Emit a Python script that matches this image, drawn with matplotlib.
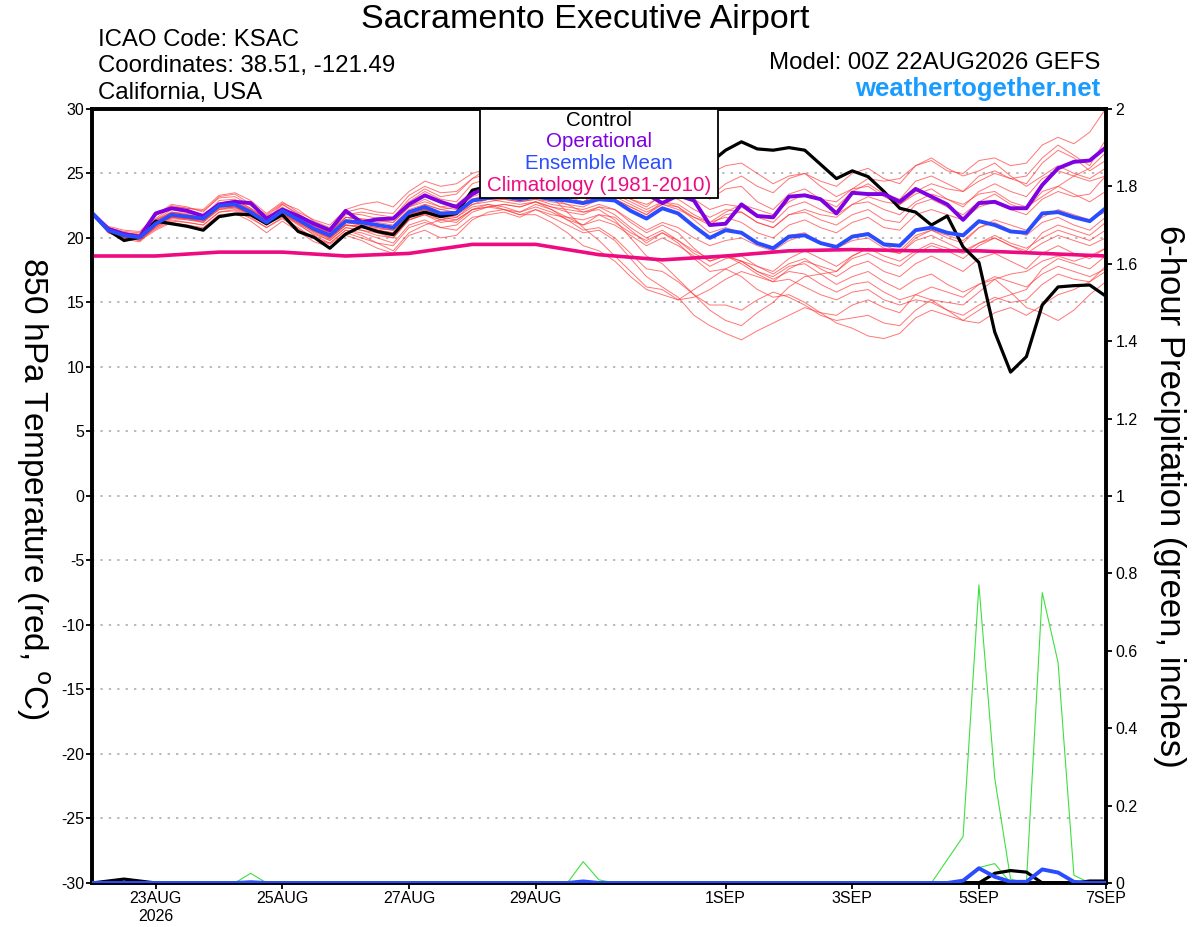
import numpy as np
import pandas as pd
import matplotlib
matplotlib.use('Agg')
import matplotlib.pyplot as plt
from matplotlib.patches import Rectangle

plt.rcParams['font.family'] = ['Liberation Sans', 'DejaVu Sans']
plt.rcParams['axes.unicode_minus'] = False

# 6-hourly forecast times, 00Z 22AUG2026 .. 00Z 07SEP2026
times = pd.date_range('2026-08-22 00:00', periods=65, freq='6h')
clim_times = pd.date_range('2026-08-22', periods=17, freq='1D')

# 850 hPa temperature (C)
control = [21.9, 20.6, 19.8, 20.05, 21.3, 21.1, 20.9, 20.6, 21.65, 21.85, 21.8, 21.1,
           21.8, 20.5, 20.05, 19.2, 20.3, 20.9, 20.5, 20.25, 21.65, 22.0, 21.65, 21.9,
           23.7, 24.0, 24.2, 24.0, 24.5, 24.3, 24.8, 24.5, 24.8, 25.0, 24.6, 25.0,
           24.8, 25.2, 25.5, 25.8, 26.8, 27.45, 26.9, 26.8, 27.0, 26.8, 25.7, 24.6,
           25.2, 24.75, 23.6, 22.3, 22.0, 21.0, 21.7, 19.3, 18.1, 12.7, 9.6, 10.8,
           14.8, 16.2, 16.3, 16.35, 15.5]
operational = [21.9, 20.7, 20.3, 20.1, 21.9, 22.3, 22.1, 21.7, 22.6, 22.8, 22.7, 21.5,
               22.2, 21.7, 21.1, 20.6, 22.1, 21.2, 21.45, 21.5, 22.6, 23.3, 22.8, 22.4,
               23.4, 24.0, 23.8, 24.0, 23.7, 23.9, 23.6, 23.4, 23.7, 23.5, 23.2, 23.4,
               22.7, 23.3, 22.9, 21.0, 21.1, 22.6, 21.7, 21.6, 23.2, 23.3, 23.0, 21.9,
               23.5, 23.4, 23.4, 22.8, 23.8, 23.2, 22.6, 21.4, 22.7, 22.8, 22.3, 22.3,
               24.1, 25.4, 25.9, 26.0, 27.0]
ens_mean = [21.9, 20.6, 20.2, 20.05, 21.1, 21.8, 21.65, 21.5, 22.5, 22.6, 22.0, 21.2,
            22.1, 21.4, 20.7, 20.2, 21.3, 21.2, 21.0, 20.8, 22.0, 22.4, 21.9, 21.95,
            22.9, 23.1, 23.2, 23.0, 23.2, 23.0, 22.9, 22.7, 23.0, 22.9, 22.1, 21.5,
            22.3, 21.9, 20.9, 20.0, 20.6, 20.4, 19.6, 19.2, 20.1, 20.2, 19.6, 19.3,
            20.1, 20.3, 19.5, 19.4, 20.6, 20.8, 20.4, 20.2, 21.3, 21.0, 20.5, 20.4,
            21.9, 22.0, 21.6, 21.3, 22.3]
climatology = [18.6, 18.6, 18.9, 18.9, 18.6, 18.8, 19.5, 19.5, 18.7, 18.3,
               18.6, 19.0, 19.1, 19.0, 19.0, 18.8, 18.6]

members = [
    [21.9, 20.8, 20.5, 20.4, 21.8, 22.6, 22.4, 22.0, 23.2, 23.4, 22.6, 21.8, 22.7, 22.2, 21.3, 20.8,
     22.0, 22.3, 22.0, 21.9, 23.3, 24.0, 23.5, 23.6, 24.6, 25.0, 25.3, 24.8, 25.2, 25.0, 24.6, 24.3,
     25.0, 24.8, 24.0, 23.6, 24.8, 24.5, 23.8, 23.2, 24.2, 24.8, 24.0, 23.5, 24.6, 25.0, 24.4, 24.0,
     25.0, 25.4, 24.6, 24.2, 25.6, 26.0, 25.2, 25.0, 26.0, 26.2, 25.6, 25.8, 27.2, 27.8, 27.3, 28.2, 30.0],
    [21.9, 20.5, 20.0, 19.9, 21.4, 22.2, 22.0, 21.6, 22.9, 23.0, 22.3, 21.4, 22.6, 21.8, 21.0, 20.4,
     21.9, 21.8, 21.5, 21.6, 22.8, 23.6, 23.0, 22.8, 24.2, 24.6, 24.0, 23.8, 24.4, 24.8, 24.2, 23.6,
     24.5, 25.2, 24.6, 23.8, 25.0, 25.4, 24.2, 23.0, 23.8, 24.0, 22.8, 22.2, 23.4, 23.8, 23.0, 22.4,
     23.6, 24.2, 23.4, 23.0, 24.4, 24.8, 24.2, 23.6, 24.8, 25.2, 24.6, 24.2, 25.8, 26.8, 26.2, 25.2, 26.0],
    [21.9, 20.7, 20.3, 20.0, 20.8, 21.4, 21.2, 21.0, 22.0, 22.2, 21.6, 20.8, 21.6, 20.8, 20.0, 19.6,
     20.6, 20.4, 20.0, 19.6, 21.0, 21.4, 20.8, 20.6, 21.6, 21.8, 22.0, 21.6, 22.2, 21.6, 21.0, 20.4,
     20.6, 19.8, 18.4, 17.0, 16.2, 15.4, 14.0, 13.2, 12.6, 12.1, 12.8, 13.4, 14.0, 14.6, 14.2, 14.0,
     14.8, 15.2, 14.6, 14.2, 15.6, 16.2, 15.8, 15.4, 16.4, 17.0, 16.6, 16.2, 17.2, 17.8, 17.4, 17.0, 17.6],
    [21.9, 20.6, 20.1, 19.8, 20.6, 21.2, 21.0, 20.8, 21.8, 21.9, 21.3, 20.4, 21.3, 20.5, 19.7, 19.3,
     20.2, 19.8, 19.2, 18.8, 20.2, 20.6, 20.0, 20.2, 21.4, 22.0, 22.2, 22.0, 22.6, 22.2, 21.6, 21.0,
     21.8, 21.6, 20.6, 19.6, 20.4, 19.6, 18.4, 17.4, 17.6, 17.0, 16.0, 15.4, 15.6, 15.0, 14.2, 13.4,
     13.0, 12.4, 12.2, 12.6, 13.8, 14.4, 14.0, 13.6, 14.4, 15.2, 15.6, 16.0, 17.6, 18.4, 18.0, 17.6, 18.6],
    [21.9, 20.6, 20.4, 20.2, 21.3, 22.0, 21.9, 21.7, 22.7, 22.9, 22.3, 21.5, 22.4, 21.6, 20.9, 20.3,
     21.6, 21.4, 21.4, 21.2, 22.4, 23.0, 22.4, 22.6, 23.6, 24.0, 23.6, 23.4, 23.8, 23.2, 23.0, 22.6,
     23.4, 23.0, 22.4, 21.8, 22.8, 22.4, 21.6, 21.0, 21.8, 22.0, 21.2, 20.8, 21.8, 22.0, 21.4, 21.0,
     21.8, 22.2, 21.4, 21.2, 22.6, 23.0, 22.4, 21.8, 22.8, 23.4, 22.6, 22.2, 23.6, 24.0, 23.4, 22.8, 23.6],
    [21.9, 20.4, 19.9, 19.7, 20.9, 21.6, 21.5, 21.2, 22.4, 22.7, 22.1, 21.2, 21.9, 21.1, 20.2, 19.6,
     20.6, 20.2, 19.6, 19.0, 20.4, 21.0, 21.4, 21.8, 22.8, 23.2, 23.8, 23.4, 23.6, 23.2, 22.0, 20.8,
     19.8, 18.6, 17.4, 16.2, 16.0, 15.2, 15.4, 16.0, 16.8, 17.4, 17.0, 16.6, 17.6, 18.2, 17.8, 17.4,
     18.4, 18.8, 18.2, 17.8, 18.8, 19.4, 19.0, 18.4, 19.4, 20.0, 19.4, 19.0, 20.4, 21.0, 20.6, 20.2, 21.2],
    [21.9, 20.8, 20.4, 20.3, 21.5, 22.4, 22.3, 22.2, 23.3, 23.5, 22.9, 21.9, 22.8, 22.0, 21.4, 21.0,
     22.2, 22.6, 22.8, 22.4, 23.6, 24.4, 24.0, 24.2, 25.0, 25.4, 25.0, 24.6, 25.4, 25.6, 25.0, 24.8,
     25.8, 26.0, 25.4, 25.0, 25.8, 26.2, 25.6, 25.0, 25.6, 25.8, 25.0, 24.2, 24.8, 25.0, 24.0, 23.2,
     23.8, 24.0, 23.2, 22.6, 23.4, 23.8, 23.0, 22.6, 23.4, 23.6, 22.8, 22.4, 23.2, 24.0, 24.8, 25.4, 26.6],
    [21.9, 20.5, 20.0, 20.0, 21.0, 21.8, 21.6, 21.4, 22.3, 22.4, 21.8, 21.0, 22.0, 21.3, 20.6, 20.0,
     21.0, 20.8, 20.6, 20.4, 21.6, 22.0, 21.4, 21.2, 22.2, 22.4, 22.6, 22.4, 22.8, 22.4, 22.0, 21.8,
     22.4, 21.8, 20.8, 20.0, 20.6, 19.8, 18.8, 18.2, 18.6, 18.2, 17.4, 16.8, 17.4, 17.2, 16.4, 15.8,
     16.4, 16.6, 15.8, 15.2, 15.6, 15.2, 14.4, 13.6, 13.4, 14.2, 14.6, 14.0, 14.8, 15.6, 16.0, 16.6, 17.4],
    [21.9, 20.7, 20.2, 20.1, 21.1, 21.7, 21.5, 21.4, 22.4, 22.5, 21.9, 21.1, 21.8, 21.1, 20.5, 20.0,
     21.0, 20.9, 20.4, 20.0, 21.4, 21.8, 21.2, 21.4, 22.2, 22.6, 22.4, 22.0, 22.4, 22.0, 21.4, 21.0,
     21.4, 21.0, 20.2, 19.4, 20.0, 19.4, 18.6, 17.8, 18.4, 18.6, 17.8, 17.2, 18.0, 18.4, 17.6, 17.0,
     17.8, 18.2, 17.4, 17.0, 18.0, 18.6, 18.0, 17.4, 18.4, 18.8, 18.2, 17.6, 18.8, 19.4, 18.8, 18.4, 19.2],
    [21.9, 20.6, 20.2, 19.9, 20.8, 21.5, 21.4, 21.3, 22.2, 22.3, 21.7, 21.0, 21.9, 21.2, 20.4, 19.8,
     20.8, 20.6, 20.2, 20.0, 21.4, 21.9, 21.6, 21.8, 22.8, 23.4, 23.6, 23.2, 23.4, 23.0, 22.6, 22.0,
     22.2, 21.4, 20.0, 18.6, 18.0, 16.8, 15.6, 14.4, 13.6, 13.2, 14.2, 15.0, 16.2, 17.0, 17.2, 17.4,
     18.6, 19.2, 19.0, 18.8, 20.0, 20.6, 20.2, 19.8, 20.8, 21.4, 21.0, 20.6, 21.6, 22.2, 21.8, 21.4, 22.0],
    [21.9, 20.6, 20.3, 20.2, 21.2, 21.9, 21.7, 21.6, 22.6, 22.8, 22.2, 21.4, 22.2, 21.5, 20.8, 20.4,
     21.4, 21.3, 21.0, 20.8, 22.0, 22.6, 22.2, 22.4, 23.4, 23.8, 23.4, 23.2, 23.6, 23.4, 23.0, 22.6,
     23.2, 23.0, 22.4, 21.8, 22.6, 22.2, 21.6, 21.2, 22.0, 22.6, 22.2, 21.8, 22.8, 23.4, 23.0, 22.8,
     23.8, 24.6, 24.4, 24.6, 25.6, 26.2, 25.4, 24.8, 25.2, 25.8, 24.8, 24.0, 24.8, 25.6, 25.0, 24.6, 25.4],
    [21.9, 20.5, 20.1, 20.0, 21.0, 21.7, 21.6, 21.4, 22.4, 22.5, 21.9, 21.2, 22.0, 21.3, 20.5, 19.9,
     21.0, 20.9, 20.7, 20.6, 21.8, 22.2, 21.8, 21.8, 22.8, 23.0, 23.0, 22.8, 23.0, 22.6, 22.4, 22.2,
     22.6, 22.2, 21.2, 20.4, 21.0, 20.4, 19.2, 18.2, 18.6, 18.2, 17.4, 17.0, 17.8, 18.0, 17.2, 16.4,
     17.0, 17.4, 16.6, 16.0, 16.8, 17.2, 16.4, 15.8, 16.4, 16.8, 15.8, 14.6, 14.2, 13.6, 14.4, 15.6, 16.6],
    [21.9, 20.6, 20.2, 20.1, 21.1, 21.8, 21.7, 21.5, 22.5, 22.6, 22.0, 21.2, 22.1, 21.4, 20.7, 20.2,
     21.2, 21.0, 20.8, 20.6, 21.8, 22.2, 21.8, 21.8, 22.6, 22.8, 23.0, 22.8, 23.0, 22.8, 22.6, 22.4,
     23.0, 23.2, 22.6, 22.0, 22.6, 22.4, 21.4, 20.4, 20.8, 20.4, 19.6, 19.2, 20.2, 20.4, 19.6, 19.2,
     20.2, 20.4, 19.4, 19.0, 20.2, 20.6, 20.0, 19.6, 20.8, 21.2, 20.6, 20.2, 21.2, 21.6, 21.0, 20.6, 21.6],
    [21.9, 20.9, 20.6, 20.5, 21.7, 22.5, 22.3, 22.1, 23.1, 23.2, 22.5, 21.7, 22.6, 21.9, 21.1, 20.6,
     21.8, 22.0, 21.8, 21.6, 23.0, 23.8, 23.2, 23.4, 24.6, 25.4, 24.8, 24.4, 25.0, 24.6, 24.0, 23.6,
     24.2, 23.8, 23.0, 22.4, 23.4, 23.6, 23.0, 22.2, 22.6, 22.4, 21.6, 21.2, 22.4, 22.8, 22.2, 21.8,
     22.6, 22.8, 22.2, 21.8, 22.8, 23.4, 23.0, 22.4, 23.6, 24.2, 23.6, 23.2, 24.6, 25.2, 24.8, 24.4, 24.8],
    [21.9, 20.4, 20.0, 19.8, 20.9, 21.6, 21.5, 21.3, 22.3, 22.4, 21.8, 21.0, 21.8, 21.0, 20.3, 19.8,
     20.8, 20.6, 20.4, 20.2, 21.4, 21.8, 21.4, 21.6, 22.4, 22.6, 22.2, 21.8, 22.2, 21.8, 21.6, 21.4,
     21.8, 21.2, 20.4, 19.8, 20.4, 19.8, 19.0, 18.4, 18.6, 18.0, 17.2, 16.6, 16.8, 16.2, 15.6, 15.2,
     15.8, 16.0, 15.2, 14.8, 15.2, 15.0, 14.4, 14.0, 14.8, 15.4, 15.0, 15.2, 16.4, 17.2, 16.8, 16.6, 17.8],
    [21.9, 20.7, 20.4, 20.2, 21.4, 22.0, 21.8, 21.6, 22.6, 22.7, 22.1, 21.3, 22.2, 21.5, 20.9, 20.4,
     21.6, 21.4, 21.2, 21.0, 22.2, 22.6, 22.2, 22.0, 23.0, 23.4, 23.4, 23.0, 23.4, 23.0, 22.8, 22.8,
     23.4, 23.4, 22.8, 22.2, 22.8, 22.6, 21.8, 21.2, 21.6, 21.2, 20.4, 20.0, 21.0, 21.4, 20.8, 20.4,
     21.2, 21.6, 20.8, 20.6, 21.8, 22.2, 21.8, 21.4, 22.4, 22.8, 22.2, 21.8, 23.0, 23.6, 23.2, 23.4, 24.8],
    [21.9, 20.6, 20.1, 20.0, 21.0, 21.6, 21.4, 21.2, 22.2, 22.4, 21.8, 21.1, 21.9, 21.2, 20.6, 20.1,
     21.0, 20.8, 20.6, 20.4, 21.8, 22.2, 21.6, 21.4, 22.2, 22.4, 22.2, 21.8, 21.8, 21.2, 20.4, 19.4,
     19.0, 18.2, 17.0, 16.0, 15.6, 15.2, 16.0, 16.8, 17.6, 18.2, 17.8, 17.4, 18.4, 19.0, 18.4, 17.8,
     18.6, 19.2, 18.6, 18.2, 19.0, 19.6, 19.2, 18.8, 19.6, 20.2, 19.6, 19.2, 20.0, 20.6, 20.2, 19.8, 20.6],
    [21.9, 20.8, 20.3, 20.2, 21.3, 22.0, 21.8, 21.6, 22.6, 22.8, 22.2, 21.4, 22.3, 21.7, 21.0, 20.5,
     21.6, 21.5, 21.3, 21.2, 22.4, 22.8, 22.4, 22.2, 23.2, 23.6, 23.4, 23.2, 23.6, 23.4, 23.2, 22.8,
     23.6, 23.6, 23.0, 22.6, 23.2, 23.0, 22.2, 21.6, 22.2, 22.0, 21.2, 20.8, 21.8, 22.2, 21.8, 21.6,
     22.6, 23.2, 22.8, 22.6, 23.6, 24.2, 23.8, 23.6, 24.4, 25.0, 24.6, 24.8, 26.2, 27.2, 26.4, 25.6, 27.6],
    [21.9, 20.5, 20.0, 19.9, 20.7, 21.3, 21.2, 21.0, 22.0, 22.1, 21.5, 20.8, 21.5, 20.7, 20.0, 19.5,
     20.4, 20.0, 19.6, 19.4, 20.8, 21.2, 20.8, 21.0, 22.0, 22.4, 22.6, 22.4, 22.8, 22.2, 21.4, 20.6,
     20.8, 20.0, 18.8, 17.6, 17.4, 16.6, 15.6, 14.8, 14.8, 14.4, 15.2, 15.8, 15.4, 14.8, 14.0, 13.6,
     13.8, 14.0, 13.4, 13.2, 14.4, 15.2, 15.0, 14.8, 15.8, 16.8, 17.2, 17.4, 18.2, 18.6, 18.2, 18.6, 19.2],
    [21.9, 20.6, 20.2, 20.0, 21.0, 21.6, 21.5, 21.4, 22.4, 22.5, 21.9, 21.1, 22.0, 21.3, 20.6, 20.0,
     21.2, 21.0, 20.8, 20.6, 21.8, 22.4, 21.8, 21.6, 22.6, 23.0, 22.8, 22.6, 22.8, 22.4, 22.2, 22.0,
     22.4, 22.2, 21.4, 20.6, 21.2, 20.8, 20.0, 19.4, 19.8, 20.0, 19.4, 19.0, 19.8, 20.2, 19.6, 19.2,
     19.8, 20.0, 19.2, 18.8, 19.8, 20.2, 19.6, 19.0, 19.6, 20.0, 19.4, 18.8, 19.6, 20.2, 19.8, 19.4, 20.0],
]

# 6-hour precipitation (inches)
control_pcp = [0, 0.005, 0.01, 0.005, 0, 0, 0, 0, 0, 0, 0, 0, 0, 0, 0, 0,
               0, 0, 0, 0, 0, 0, 0, 0, 0, 0, 0, 0, 0, 0, 0, 0,
               0, 0, 0, 0, 0, 0, 0, 0, 0, 0, 0, 0, 0, 0, 0, 0,
               0, 0, 0, 0, 0, 0, 0, 0, 0, 0.025, 0.032, 0.028, 0, 0, 0, 0.005, 0.005]
mean_pcp = [0, 0, 0, 0, 0, 0, 0, 0, 0, 0, 0.002, 0, 0, 0, 0, 0,
            0, 0, 0, 0, 0, 0, 0, 0, 0, 0, 0, 0, 0, 0, 0, 0.004,
            0, 0, 0, 0, 0, 0, 0, 0, 0, 0, 0, 0, 0, 0, 0, 0,
            0, 0, 0, 0, 0, 0, 0, 0.006, 0.038, 0.016, 0.003, 0.003, 0.035, 0.027, 0.003, 0, 0]
member_pcp = [
    [0, 0, 0, 0, 0, 0, 0, 0, 0, 0, 0, 0, 0, 0, 0, 0,
     0, 0, 0, 0, 0, 0, 0, 0, 0, 0, 0, 0, 0, 0, 0, 0,
     0, 0, 0, 0, 0, 0, 0, 0, 0, 0, 0, 0, 0, 0, 0, 0,
     0, 0, 0, 0, 0, 0, 0.06, 0.12, 0.77, 0.27, 0.01, 0, 0.75, 0.57, 0.02, 0, 0],
    [0, 0, 0, 0, 0, 0, 0, 0, 0, 0, 0, 0, 0, 0, 0, 0,
     0, 0, 0, 0, 0, 0, 0, 0, 0, 0, 0, 0, 0, 0, 0, 0,
     0, 0, 0, 0, 0, 0, 0, 0, 0, 0, 0, 0, 0, 0, 0, 0,
     0, 0, 0, 0, 0, 0, 0, 0, 0.04, 0.05, 0, 0, 0, 0, 0, 0, 0],
    [0, 0, 0, 0, 0, 0, 0, 0, 0, 0, 0.025, 0, 0, 0, 0, 0,
     0, 0, 0, 0, 0, 0, 0, 0, 0, 0, 0, 0, 0, 0, 0, 0.055,
     0.008, 0, 0, 0, 0, 0, 0, 0, 0, 0, 0, 0, 0, 0, 0, 0,
     0, 0, 0, 0, 0, 0, 0, 0, 0, 0, 0, 0, 0, 0, 0, 0, 0],
]

tick_dates = pd.to_datetime(['2026-08-23', '2026-08-25', '2026-08-27', '2026-08-29',
                             '2026-09-01', '2026-09-03', '2026-09-05', '2026-09-07'])
tick_labels = ['23AUG\n2026', '25AUG', '27AUG', '29AUG', '1SEP', '3SEP', '5SEP', '7SEP']

RED = '#ff3b3b'
GREEN = '#3ee03e'
PURPLE = '#7f00e0'
BLUE = '#2a4cff'
MAGENTA = '#ee0a80'

fig = plt.figure(figsize=(12, 9.27), dpi=100)
ax = fig.add_axes([0.077, 0.0475, 0.8443, 0.835])

for m in members:
    ax.plot(times, m, color=RED, lw=0.7, alpha=0.7, zorder=2)
ax.plot(clim_times, climatology, color=MAGENTA, lw=2.6, zorder=3)
ax.plot(times, control, color='black', lw=2.3, zorder=4)
ax.plot(times, operational, color=PURPLE, lw=2.8, zorder=5)
ax.plot(times, ens_mean, color=BLUE, lw=2.8, zorder=6)

ax.set_xlim(times[0], times[-1])
ax.set_ylim(-30, 30)
ax.set_yticks(np.arange(-30, 31, 5))
ax.set_xticks(tick_dates)
ax.set_xticklabels(tick_labels)
ax.yaxis.grid(True, color='#a6a6a6', ls=(0, (1.5, 4)), lw=1.1)
ax.set_axisbelow(True)
ax.tick_params(axis='both', direction='out', length=4, width=1.3, labelsize=11.5, pad=2)
ax.set_ylabel('850 hPa Temperature (red, $^{\\rm o}$C)', fontsize=24, rotation=270,
              va='center')
ax.yaxis.set_label_coords(-0.059, 0.51)

ax2 = ax.twinx()
for p in member_pcp:
    ax2.plot(times, p, color=GREEN, lw=0.8, zorder=2)
ax2.plot(times, control_pcp, color='black', lw=2.3, zorder=3)
ax2.plot(times, mean_pcp, color=BLUE, lw=2.8, zorder=4)
ax2.set_ylim(0, 2)
ax2.set_yticks(np.arange(0, 2.01, 0.2))
ax2.set_yticklabels(['%g' % round(v, 1) for v in np.arange(0, 2.01, 0.2)])
ax2.tick_params(axis='y', direction='out', length=4, width=1.3, labelsize=11.5, pad=3)
ax2.set_ylabel('6-hour Precipitation (green, inches)', fontsize=25, rotation=270,
               va='center')
ax2.yaxis.set_label_coords(1.0636, 0.5)

for a in (ax, ax2):
    for s in a.spines.values():
        s.set_linewidth(2.6)

# legend box
ax2.add_patch(Rectangle((0.3826, 0.885), 0.235, 0.115, transform=ax2.transAxes,
                        facecolor='white', edgecolor='black', lw=1.3, zorder=10))
legend_items = [('Control', 'black', 0.9845), ('Operational', PURPLE, 0.9574),
                ('Ensemble Mean', BLUE, 0.929), ('Climatology (1981-2010)', MAGENTA, 0.9005)]
for txt, col, yy in legend_items:
    ax2.text(0.5, yy, txt, color=col, fontsize=14.8, ha='center', va='center',
             transform=ax2.transAxes, zorder=11)

fig.text(0.4875, 0.9795, 'Sacramento Executive Airport', fontsize=24.5, ha='center', va='center')
fig.text(0.0817, 0.957, 'ICAO Code: KSAC', fontsize=17.3, ha='left', va='center')
fig.text(0.0817, 0.9285, 'Coordinates: 38.51, -121.49', fontsize=17.3, ha='left', va='center')
fig.text(0.0817, 0.8995, 'California, USA', fontsize=17.3, ha='left', va='center')
fig.text(0.9167, 0.932, 'Model: 00Z 22AUG2026 GEFS', fontsize=17.3, ha='right', va='center')
fig.text(0.9167, 0.904, 'weathertogether.net', fontsize=18.5, fontweight='bold',
         color='#1a9cff', ha='right', va='center')

fig.savefig('out.png', dpi=100)
